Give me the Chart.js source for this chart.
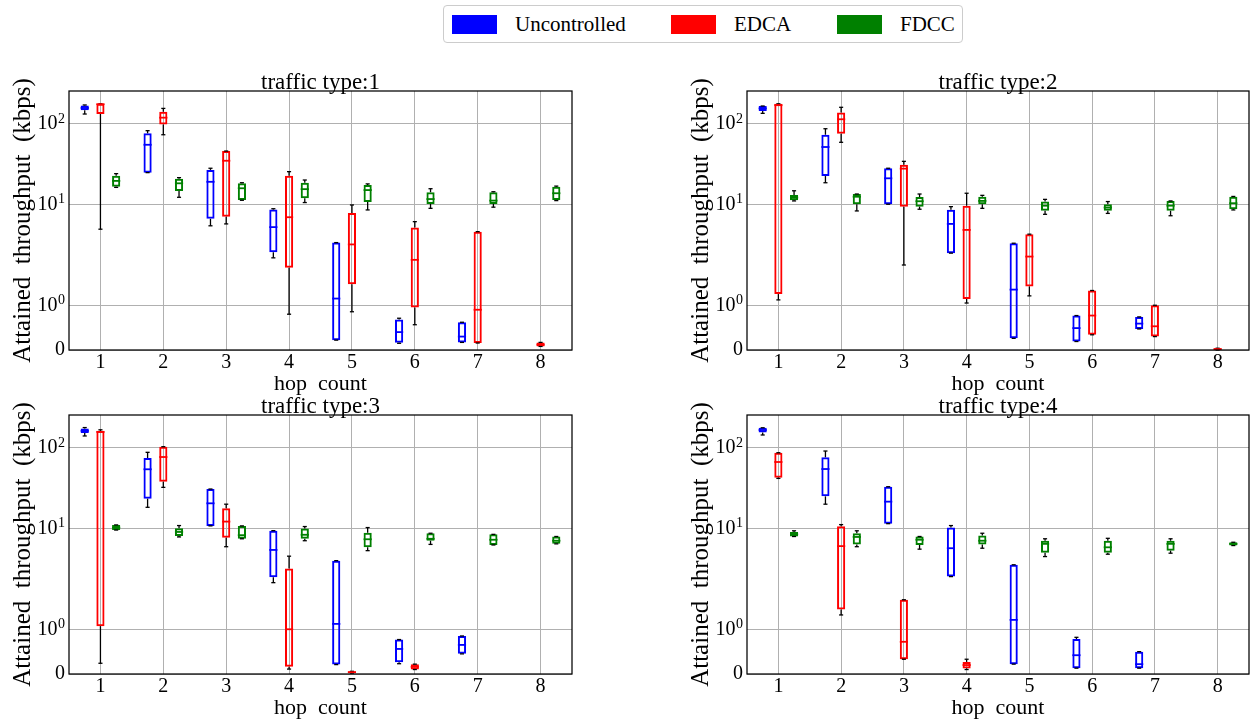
<!DOCTYPE html>
<html><head><meta charset="utf-8">
<script src="https://cdn.jsdelivr.net/npm/chart.js@4.4.1/dist/chart.umd.min.js"></script>
<style>
html,body{margin:0;padding:0;background:#fff;width:1250px;height:722px;overflow:hidden;}
canvas{position:absolute;}
#legend{position:absolute;left:443px;top:5px;width:518px;height:36px;border:1px solid #cccccc;border-radius:4px;background:#fff;font-family:'Liberation Serif',serif;font-size:21px;color:#000;}
.patch{position:absolute;top:9px;width:45px;height:19px;}
.ltext{position:absolute;top:0;height:36px;line-height:36px;white-space:pre;}
</style></head><body>
<div id="legend"></div>
<canvas id="p0" width="600" height="338" style="left:0;top:60px"></canvas>
<canvas id="p1" width="572" height="338" style="left:678px;top:60px"></canvas>
<canvas id="p2" width="600" height="338" style="left:0;top:384px"></canvas>
<canvas id="p3" width="572" height="338" style="left:678px;top:384px"></canvas>
<script>
// ---------------- data ----------------
const hopLabels = ['1', '2', '3', '4', '5', '6', '7', '8'];
const seriesNames = ['Uncontrolled', 'EDCA', 'FDCC'];
const panelTitles = ['traffic type:1', 'traffic type:2', 'traffic type:3', 'traffic type:4'];
const yTickValues = [0, 1, 10, 100];
const yTickLabels = ['0', '10\u2070', '10\u00B9', '10\u00B2'];
const yAxisMax = 255;

// each entry: [lower whisker, Q1, median, Q3, upper whisker]  (kbps), null = no box
const type1Uncontrolled = [[132,147,157,169,171],[24.7,24.7,54.8,76,82],[5.4,6.6,19,26.7,28],[2.16,2.54,5.2,8.6,8.8],[0.22,0.22,1.15,3.34,3.34],[0.15,0.16,0.40,0.68,0.71],[0.17,0.17,0.30,0.62,0.62],null];
const type1EDCA = [[4.9,132,175,177,177],[73,98,119,141,155],[5.7,7.0,34.7,45.8,45.8],[0.80,1.84,6.9,22.6,25.4],[0.855,1.47,3.17,7.8,9.8],[0.565,0.95,2.04,5.13,6.08],[0.156,0.156,0.90,4.57,4.57],[0.08,0.08,0.12,0.17,0.17]];
const type1FDCC = [[16.2,16.5,19.5,22.6,24.0],[12.2,14.6,18.2,20.8,21.4],[11.2,11.3,15.8,18.2,18.5],[10.5,11.9,15.4,18.5,20.0],[8.5,10.7,15.0,17.3,17.9],[8.9,10.1,11.6,14.1,15.6],[9.2,10.1,11.1,14.1,14.3],[11.1,11.3,13.7,16.5,16.8]];

const type2Uncontrolled = [[134.6,143.5,155,165.8,166],[18.5,22.4,51.4,73,86.7],[10,10,21,28,28],[2.47,2.47,5.7,8.57,9.34],[0.26,0.26,1.35,3.28,3.28],[0.19,0.19,0.49,0.77,0.77],[0.47,0.47,0.59,0.74,0.74],null];
const type2EDCA = [[1.12,1.25,170,177,177],[58.8,75.2,113.6,138,160],[1.9,9.34,27.7,31.0,34.1],[1.05,1.14,4.8,9.6,13.7],[1.21,1.42,2.24,4.25,4.25],[0.34,0.34,0.77,1.33,1.33],[0.30,0.30,0.53,1.0,1.0],[0.0,0.0,0.02,0.04,0.04]];
const type2FDCC = [[11.0,11.2,12.1,13.0,14.7],[8.26,10.0,12.4,13.4,13.4],[8.67,9.34,10.9,12.3,13.4],[8.9,10.0,11.0,12.4,12.9],[7.5,8.3,9.6,10.8,11.5],[7.7,8.3,9.1,10.0,10.8],[7.2,8.3,9.6,11.0,11.0],[8.5,8.67,10.3,12.4,12.5]];

const type3Uncontrolled = [[140,152,162,173,178],[18.2,23.3,54,74.5,87.7],[10.7,10.7,20.4,30.7,30.7],[2.11,2.47,5.38,9.34,9.34],[0.21,0.21,1.12,3.96,3.96],[0.23,0.26,0.56,0.77,0.77],[0.45,0.45,0.65,0.85,0.85],null];
const type3EDCA = [[0.24,1.07,157,162,167],[32.2,37.8,76.7,103,103],[5.9,7.64,12.1,17.7,19.9],[0.11,0.163,1.0,3.16,4.5],[0.02,0.02,0.04,0.06,0.06],[0.10,0.10,0.16,0.22,0.22],null,null];
const type3FDCC = [[9.5,9.5,10.2,11.0,11.0],[7.8,8.0,9.0,10.0,10.8],[7.4,7.4,8.2,10.7,10.7],[7.0,7.4,8.3,9.9,10.5],[5.27,5.8,7.3,8.8,10.2],[6.3,7.0,7.4,8.67,8.67],[6.2,6.2,7.2,8.4,8.4],[6.4,6.4,7.0,7.9,7.9]];

const type4Uncontrolled = [[144,155,166,177,177],[19.9,24.9,54.4,76,91],[11.4,11.4,21.4,32.8,32.8],[2.51,2.51,5.65,10.2,10.8],[0.22,0.22,1.21,3.52,3.52],[0.13,0.13,0.42,0.78,0.82],[0.13,0.13,0.22,0.50,0.50],null];
const type4EDCA = [[41.6,42.5,66.5,86.7,86.7],[1.32,1.44,6.0,10.6,11.1],[0.33,0.33,0.72,1.66,1.66],[0.1,0.125,0.2,0.27,0.33],null,null,null,null];
const type4FDCC = [[7.9,7.9,8.4,9.0,9.3],[5.9,6.3,7.8,8.67,9.3],[5.5,6.2,7.2,7.9,7.9],[5.65,6.3,7.0,8.1,8.67],[4.45,4.98,6.4,7.0,7.4],[4.76,4.98,5.8,7.0,7.5],[4.9,5.27,6.4,7.0,7.4],[6.1,6.1,6.4,6.7,6.7]];

// ---------------- styling ----------------
const seriesColors = ['#0000ff', '#ff0000', '#008000'];
Chart.defaults.font.family = "'Liberation Serif', 'Times New Roman', serif";
Chart.defaults.color = '#000';

// legend (HTML, real text)
(function(){
  const lg = document.getElementById('legend');
  const patchX = [8, 227, 393], textX = [71, 290, 456];
  seriesNames.forEach((n, k) => {
    const p = document.createElement('div'); p.className = 'patch';
    p.style.left = patchX[k] + 'px'; p.style.background = seriesColors[k]; lg.appendChild(p);
    const t = document.createElement('div'); t.className = 'ltext';
    t.style.left = textX[k] + 'px'; t.textContent = n; lg.appendChild(t);
  });
})();

// symmetric log scale (linthresh 2, linscale 1)
const LT = 2, LA = 1 / (1 - 0.1);
function tf(v){ const a = Math.abs(v), s = v < 0 ? -1 : 1; return a <= LT ? v * LA : s * LT * (LA + Math.log10(a / LT)); }
function itf(t){ const a = Math.abs(t), s = t < 0 ? -1 : 1; return a <= LT * LA ? t / LA : s * LT * Math.pow(10, a / LT - LA); }
const SUP = {'\u2070': '0', '\u00B9': '1', '\u00B2': '2', '\u00B3': '3'};

class SymlogScale extends Chart.LinearScale {
  static id = 'symlog';
  static defaults = {};
  buildTicks(){ return yTickValues.filter(v => v >= this.min && v <= this.max).map(v => ({value: v})); }
  getPixelForValue(v){ const a = tf(this.min), b = tf(this.max); return this.getPixelForDecimal((tf(v) - a) / (b - a)); }
  getValueForPixel(p){ const a = tf(this.min), b = tf(this.max); return itf(a + this.getDecimalForPixel(p) * (b - a)); }
  drawLabels(chartArea){
    const ctx = this.ctx;
    const items = this.getLabelItems(chartArea);
    const bf = Chart.helpers.toFont(this.options.ticks.font);
    const sf = Chart.helpers.toFont({family: bf.family, size: Math.round(bf.size * 0.7), style: bf.style, weight: bf.weight, lineHeight: 1.2});
    for (const it of items) {
      const x = it.options.translation[0], y = it.options.translation[1];
      const lab = String(it.label), last = lab.slice(-1);
      ctx.save();
      ctx.fillStyle = it.options.color || '#000';
      ctx.textBaseline = 'middle'; ctx.textAlign = 'right';
      if (SUP[last]) {
        ctx.font = sf.string;
        ctx.fillText(SUP[last], x, y - 4.5);
        const w = ctx.measureText(SUP[last]).width;
        ctx.font = bf.string;
        ctx.fillText(lab.slice(0, -1), x - w - 0.5, y);
      } else {
        ctx.font = bf.string;
        ctx.fillText(lab, x, y);
      }
      ctx.restore();
    }
  }
  drawTitle(){
    const t = this.options.title; if (!t.display) return;
    const font = Chart.helpers.toFont(t.font), pad = Chart.helpers.toPadding(t.padding);
    const ctx = this.ctx;
    const x = this.left + font.lineHeight / 2 + pad.top, y = (this.top + this.bottom) / 2;
    ctx.save(); ctx.translate(x, y); ctx.rotate(-Math.PI / 2);
    ctx.font = font.string; ctx.fillStyle = t.color; ctx.textAlign = 'center'; ctx.textBaseline = 'middle';
    ctx.fillText(t.text, 0, 0); ctx.restore();
  }
}
Chart.register(SymlogScale);

const boxExtras = {
  id: 'boxExtras',
  afterDatasetsDraw(chart){
    const ctx = chart.ctx, ys = chart.scales.y;
    const seg = (x1, y1, x2, y2) => { ctx.beginPath(); ctx.moveTo(x1, y1); ctx.lineTo(x2, y2); ctx.stroke(); };
    chart.data.datasets.forEach((ds, di) => {
      const meta = chart.getDatasetMeta(di);
      ds.stats.forEach((s, i) => {
        if (!s) return;
        const el = meta.data[i]; const x = el.x, w = el.width;
        const py = s.map(v => ys.getPixelForValue(v));
        ctx.save();
        ctx.strokeStyle = '#000'; ctx.lineWidth = 1.3;
        seg(x, py[1], x, py[0]); seg(x, py[3], x, py[4]);
        seg(x - w / 4, py[0], x + w / 4, py[0]); seg(x - w / 4, py[4], x + w / 4, py[4]);
        ctx.strokeStyle = ds.borderColor; ctx.lineWidth = 1.8;
        seg(x - w / 2, py[2], x + w / 2, py[2]);
        ctx.restore();
      });
    });
    const a = chart.chartArea;
    ctx.save(); ctx.strokeStyle = '#000'; ctx.lineWidth = 1.25;
    ctx.strokeRect(a.left, a.top, a.right - a.left, a.bottom - a.top); ctx.restore();
  }
};

function makeChart(id, title, statsList, padRight){
  return new Chart(document.getElementById(id), {
    type: 'bar',
    data: {
      labels: hopLabels,
      datasets: statsList.map((st, k) => ({
        label: seriesNames[k],
        data: st.map(s => s ? [s[1], s[3]] : null),
        stats: st,
        backgroundColor: 'rgba(0,0,0,0)',
        borderColor: seriesColors[k],
        borderWidth: 2,
        borderSkipped: false,
        categoryPercentage: 0.75,
        barPercentage: 0.52
      }))
    },
    options: {
      responsive: false, animation: false, devicePixelRatio: 1,
      layout: { padding: { left: 0, right: padRight, top: 0, bottom: 0 } },
      plugins: {
        legend: { display: false }, tooltip: { enabled: false },
        title: { display: true, text: title, fullSize: false, color: '#000', font: { size: 23, lineHeight: 1, weight: 'normal' }, padding: { top: 11.5, bottom: -3.5 } }
      },
      scales: {
        x: {
          type: 'category', offset: true,
          grid: { offset: false, color: '#b0b0b0', lineWidth: 1, drawTicks: false },
          border: { display: false },
          ticks: { font: { size: 20 }, padding: 1, color: '#000' },
          title: { display: true, text: 'hop  count', color: '#000', font: { size: 22, lineHeight: 1 }, padding: { top: 0, bottom: 2.5 } },
          afterFit: s => { s.height = 48; }
        },
        y: {
          type: 'symlog', min: 0, max: yAxisMax,
          grid: { color: '#b0b0b0', lineWidth: 1, drawTicks: false },
          border: { display: false },
          ticks: { font: { size: 20 }, padding: 4, color: '#000', callback: v => yTickLabels[yTickValues.indexOf(v)] },
          title: { display: true, text: 'Attained  throughput  (kbps)', color: '#000', font: { size: 25, lineHeight: 1 }, padding: { top: 10.5, bottom: 0 } },
          afterFit: s => { s.width = 69; }
        }
      }
    },
    plugins: [boxExtras]
  });
}

makeChart('p0', panelTitles[0], [type1Uncontrolled, type1EDCA, type1FDCC], 28);
makeChart('p1', panelTitles[1], [type2Uncontrolled, type2EDCA, type2FDCC], 1);
makeChart('p2', panelTitles[2], [type3Uncontrolled, type3EDCA, type3FDCC], 28);
makeChart('p3', panelTitles[3], [type4Uncontrolled, type4EDCA, type4FDCC], 1);
</script>
</body></html>
